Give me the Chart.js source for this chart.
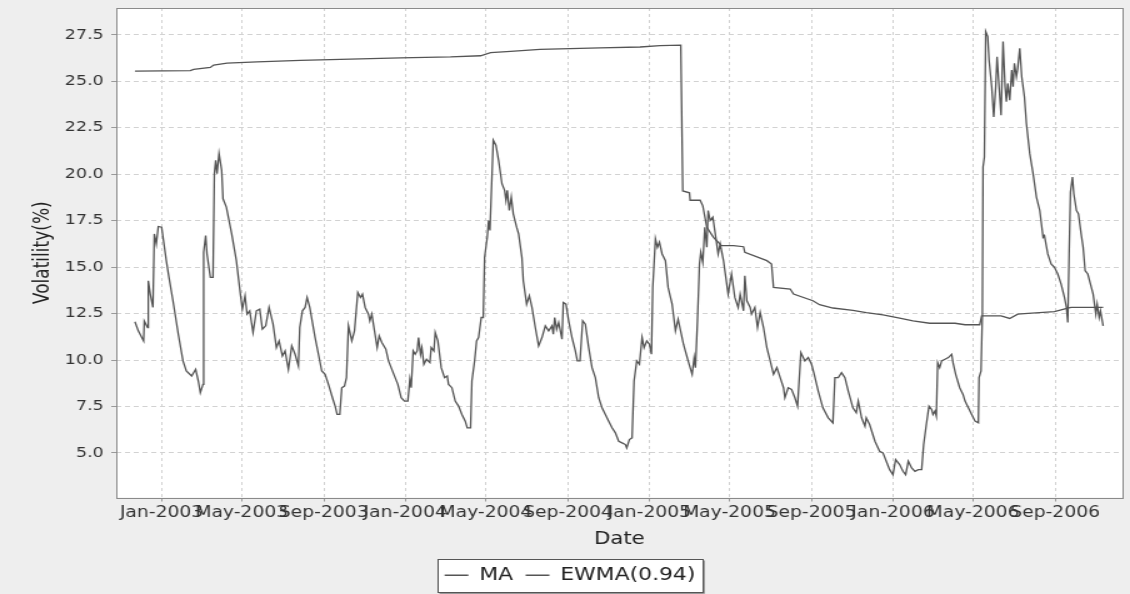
<!DOCTYPE html>
<html><head><meta charset="utf-8">
<script src="https://cdn.jsdelivr.net/npm/chart.js@4.4.1/dist/chart.umd.min.js"></script>
<style>
html,body{margin:0;padding:0;background:#eeeeee;overflow:hidden;}
#c{display:block;}
</style></head>
<body>
<canvas id="c" width="904" height="594" style="width:1130px;height:594px;"></canvas>
<script>
// x values are days counted from 1 Jan 2003
const xTickDays = [0,120,243,365,486,609,731,851,974,1096,1216,1339];
const xTickLabels = ['Jan-2003','May-2003','Sep-2003','Jan-2004','May-2004','Sep-2004','Jan-2005','May-2005','Sep-2005','Jan-2006','May-2006','Sep-2006'];
const yTicks = [5.0,7.5,10.0,12.5,15.0,17.5,20.0,22.5,25.0,27.5];
const seriesNames = ['MA','EWMA(0.94)'];

const maDays = [-40,43,48,73,78,98,143,208,283,358,433,478,493,523,567,657,717,747,778,781,791,792,807,811,817,827,839,857,872,874,907,914,917,942,947,976,986,1006,1036,1056,1081,1106,1126,1151,1189,1204,1226,1229,1258,1271,1283,1293,1338,1358,1363,1411];
const maValues = [25.55,25.58,25.65,25.75,25.88,25.98,26.05,26.13,26.20,26.27,26.32,26.38,26.55,26.62,26.72,26.80,26.85,26.92,26.95,19.10,19.00,18.60,18.60,18.30,17.15,16.60,16.16,16.16,16.10,15.80,15.35,15.17,13.91,13.82,13.55,13.19,12.98,12.80,12.67,12.55,12.43,12.25,12.11,11.98,11.98,11.90,11.90,12.38,12.38,12.24,12.47,12.50,12.60,12.79,12.83,12.83];

const ewmaDays = [-40,-35,-27,-26,-21,-20,-17,-13,-11,-8,-5,0,7,11,17,25,32,37,45,51,55,58,62,63,66,68,73,77,79,81,83,86,90,92,97,105,112,118,121,125,128,132,137,142,147,151,156,161,167,172,176,181,185,190,195,200,205,207,211,215,218,222,230,235,240,245,250,256,260,263,267,270,274,277,280,285,289,294,298,301,305,310,312,315,319,323,326,330,336,340,348,354,359,364,369,372,374,377,380,383,385,388,390,393,397,402,404,408,410,414,419,424,428,430,435,440,445,450,455,458,463,465,469,472,475,479,482,484,488,490,492,495,497,501,505,510,514,516,518,521,524,527,532,535,540,542,547,551,555,560,565,570,575,580,585,587,589,592,595,600,602,606,610,615,620,623,627,631,635,640,645,650,655,660,665,670,675,680,685,690,695,697,701,705,708,712,716,720,723,727,731,734,736,740,743,746,750,755,759,765,770,774,782,789,795,798,800,803,806,808,811,814,817,819,822,826,829,834,837,842,849,854,859,864,867,872,874,877,882,884,889,893,897,902,907,912,917,922,927,932,934,939,944,949,953,958,964,969,974,978,984,991,999,1006,1009,1014,1019,1024,1029,1036,1041,1044,1049,1054,1056,1061,1069,1076,1081,1086,1091,1096,1100,1106,1111,1115,1119,1124,1129,1134,1139,1142,1146,1150,1154,1156,1159,1161,1163,1166,1169,1174,1179,1184,1186,1190,1196,1201,1204,1209,1214,1219,1224,1225,1228,1230,1231,1233,1235,1238,1240,1244,1247,1250,1252,1255,1258,1261,1264,1266,1268,1271,1274,1276,1278,1281,1283,1286,1289,1293,1296,1301,1306,1311,1316,1321,1323,1328,1333,1338,1343,1348,1353,1356,1358,1360,1362,1365,1367,1371,1374,1378,1381,1384,1388,1392,1396,1400,1402,1405,1407,1411];
const ewmaValues = [12.06,11.57,11.03,12.10,11.75,14.27,13.55,12.83,16.79,16.25,17.19,17.15,15.35,14.45,13.19,11.39,9.95,9.41,9.14,9.50,8.87,8.24,8.69,15.80,16.70,15.71,14.45,14.45,20.03,20.75,20.03,21.11,20.21,18.68,18.23,16.79,15.35,13.55,12.74,13.46,12.47,12.65,11.48,12.65,12.74,11.66,11.84,12.83,11.93,10.67,11.03,10.22,10.49,9.50,10.76,10.31,9.68,11.75,12.65,12.83,13.37,12.83,11.21,10.31,9.41,9.23,8.69,7.97,7.52,7.07,7.07,8.51,8.60,9.05,11.84,11.03,11.57,13.64,13.37,13.55,12.83,12.47,12.11,12.47,11.57,10.67,11.30,10.94,10.58,9.95,9.23,8.69,7.97,7.79,7.79,8.96,8.51,10.49,10.31,10.49,11.21,10.31,10.67,9.77,10.04,9.86,10.67,10.49,11.48,11.03,9.59,9.05,9.14,8.69,8.51,7.79,7.52,7.07,6.71,6.35,6.35,8.87,9.95,11.03,11.21,12.29,12.29,15.53,16.61,17.51,16.97,19.85,21.83,21.56,20.75,19.49,19.13,18.59,19.13,18.05,18.77,17.87,17.15,16.79,15.50,14.27,13.01,13.46,12.83,11.75,10.76,11.21,11.84,11.57,11.84,11.39,12.29,11.66,12.02,11.12,13.10,13.01,12.11,11.21,10.49,9.95,9.95,12.11,11.93,10.67,9.59,9.05,7.97,7.43,7.07,6.71,6.35,6.08,5.63,5.54,5.45,5.27,5.72,5.81,8.87,9.95,9.77,11.21,10.67,11.03,10.85,10.31,13.91,16.52,16.07,16.34,15.71,15.35,13.91,13.01,11.57,12.20,10.85,9.95,9.23,10.13,9.59,12.11,15.17,15.80,15.26,17.15,16.07,18.05,17.51,17.69,16.97,15.71,16.25,15.35,13.55,14.63,13.37,12.83,13.55,12.65,14.54,13.19,12.83,12.47,12.83,11.75,12.56,11.75,10.67,9.95,9.23,9.59,9.05,8.51,7.97,8.51,8.42,7.97,7.52,10.40,9.95,10.13,9.77,9.23,8.33,7.43,6.89,6.62,9.05,9.05,9.32,9.05,8.33,7.43,7.16,7.79,6.89,6.44,6.89,6.53,5.63,5.09,5.00,4.55,4.10,3.83,4.64,4.37,4.01,3.83,4.55,4.19,4.01,4.10,4.10,5.45,6.53,7.52,7.34,7.07,7.25,6.98,9.86,9.59,9.95,10.04,10.13,10.31,9.86,9.23,8.51,8.15,7.79,7.43,7.07,6.71,6.62,9.05,9.41,12.47,20.39,20.93,27.68,27.41,26.15,24.71,23.09,24.71,26.33,24.71,23.18,27.14,24.71,23.90,24.89,23.99,25.61,24.71,25.97,25.25,25.70,26.78,25.25,24.17,22.73,21.11,20.03,18.77,18.05,16.61,16.70,15.71,15.17,14.99,14.63,14.09,13.37,12.83,12.02,15.71,19.04,19.85,18.95,18.05,17.87,16.79,16.07,14.81,14.63,14.09,13.55,12.47,13.01,12.29,12.65,11.84];

const LINE = '#555555';
const FONT = 'DejaVu Sans';
const LEGEND_SHIFT = 7;

const framePlugin = {
  id: 'frame',
  afterUpdate(chart) {
    const lg = chart.legend;
    if (lg && lg.legendHitBoxes) {
      lg.left += LEGEND_SHIFT; lg.right += LEGEND_SHIFT;
      lg.legendHitBoxes.forEach(h => { h.left += LEGEND_SHIFT; });
    }
  },
  beforeDraw(chart) {
    const {ctx, chartArea: a} = chart;
    ctx.save();
    ctx.fillStyle = '#eeeeee';
    ctx.fillRect(0, 0, chart.width, chart.height);
    ctx.fillStyle = '#ffffff';
    ctx.fillRect(a.left, a.top, a.right - a.left, a.bottom - a.top);
    const hb = chart.legend && chart.legend.legendHitBoxes;
    if (hb && hb.length) {
      let l = Infinity, r = -Infinity, t = Infinity, b = -Infinity;
      hb.forEach(h => { l = Math.min(l, h.left); r = Math.max(r, h.left + h.width); t = Math.min(t, h.top); b = Math.max(b, h.top + h.height); });
      const x0 = Math.round(l - 6) + 0.5, y0 = Math.round(t - 8) + 0.5;
      const w = Math.round(r - l + 11), h = Math.round(b - t + 15);
      ctx.fillStyle = '#ffffff';
      ctx.fillRect(x0, y0, w, h);
      ctx.strokeStyle = '#555555';
      ctx.lineWidth = 1;
      ctx.strokeRect(x0, y0, w, h);
      ctx.strokeStyle = '#999999';
      ctx.beginPath();
      ctx.moveTo(x0 + w + 1, y0 + 1); ctx.lineTo(x0 + w + 1, y0 + h + 1); ctx.lineTo(x0 + 1, y0 + h + 1);
      ctx.stroke();
    }
    ctx.restore();
  },
  afterDraw(chart) {
    const {ctx, chartArea: a} = chart;
    ctx.save();
    ctx.strokeStyle = '#8a8a8a';
    ctx.lineWidth = 1;
    ctx.strokeRect(Math.round(a.left) + 0.5, Math.round(a.top) + 0.5, Math.round(a.right - a.left), Math.round(a.bottom - a.top));
    ctx.restore();
  }
};

new Chart(document.getElementById('c'), {
  type: 'line',
  data: {
    datasets: [
      { label: seriesNames[0], data: maDays.map((d, i) => ({x: d, y: maValues[i]})), borderColor: LINE, backgroundColor: LINE, borderWidth: 1.3, pointRadius: 0, tension: 0, fill: false },
      { label: seriesNames[1], data: ewmaDays.map((d, i) => ({x: d, y: ewmaValues[i]})), borderColor: LINE, backgroundColor: LINE, borderWidth: 1.3, pointRadius: 0, tension: 0, fill: false }
    ]
  },
  options: {
    responsive: false,
    animation: false,
    events: [],
    layout: { padding: { top: 0, right: 6, left: 0, bottom: 0 } },
    plugins: {
      tooltip: { enabled: false },
      legend: {
        position: 'bottom',
        labels: { usePointStyle: true, pointStyle: 'line', pointStyleWidth: 19, boxHeight: 18, padding: 10, color: '#222', font: { family: FONT, size: 17.5 } }
      }
    },
    scales: {
      x: {
        type: 'linear', min: -68, max: 1440,
        afterBuildTicks: s => { s.ticks = xTickDays.map(v => ({value: v})); },
        afterFit: s => { s.height = 59; },
        ticks: {
          autoSkip: false, maxRotation: 0, minRotation: 0, padding: 3,
          color: '#333', font: { family: FONT, size: 15 },
          callback: v => { const i = xTickDays.indexOf(v); return i >= 0 ? xTickLabels[i] : ''; }
        },
        grid: { color: '#d2d2d2', lineWidth: 1, tickLength: 4, tickColor: '#999', tickBorderDash: [], drawTicks: true },
        border: { display: false, dash: [3, 3] },
        title: { display: true, text: 'Date', color: '#222', font: { family: FONT, size: 17 }, padding: { top: 0, bottom: 7 } }
      },
      y: {
        type: 'linear', min: 2.6, max: 28.95,
        afterBuildTicks: s => { s.ticks = yTicks.map(v => ({value: v})); },
        afterFit: s => { s.width = 93; s.paddingTop = 8; s.paddingBottom = 0; },
        ticks: { color: '#333', padding: 6, font: { family: FONT, size: 14 }, callback: v => Number(v).toFixed(1) },
        grid: { color: '#d2d2d2', lineWidth: 1, tickLength: 4, tickColor: '#999', tickBorderDash: [] },
        border: { display: false, dash: [4, 3] },
        title: { display: true, text: 'Volatility(%)', color: '#222', font: { family: FONT, size: 17 }, padding: { top: 24, bottom: 0 } }
      }
    }
  },
  plugins: [framePlugin]
});
</script>
</body></html>
